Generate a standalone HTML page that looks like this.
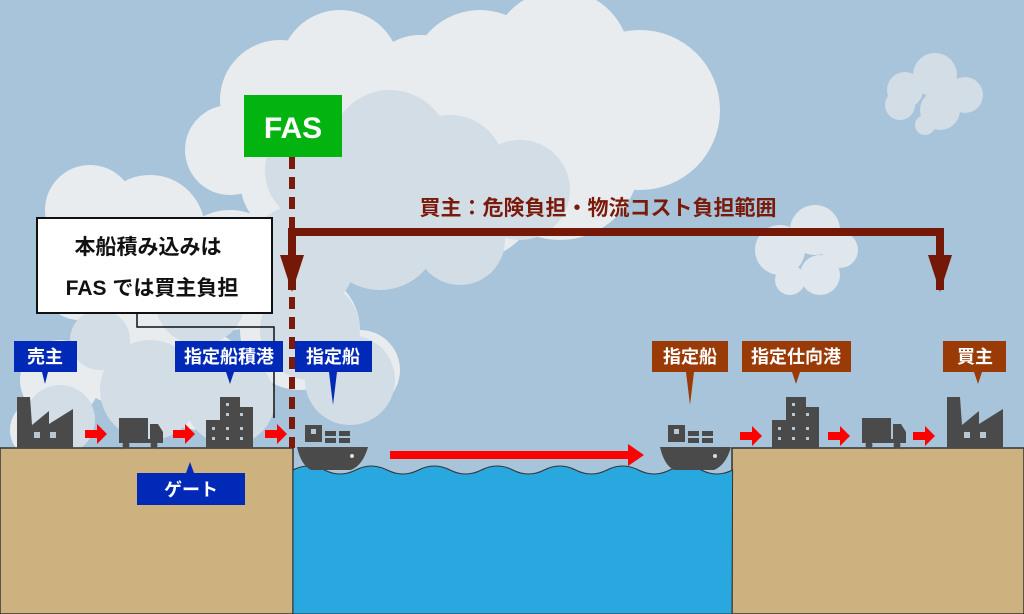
<!DOCTYPE html>
<html><head><meta charset="utf-8"><style>
html,body{margin:0;padding:0;width:1024px;height:614px;overflow:hidden;background:#a7c4da}
text{font-family:"Liberation Sans","Noto Sans CJK JP",sans-serif;font-weight:bold}
</style></head><body>
<svg width="1024" height="614" viewBox="0 0 1024 614" xmlns="http://www.w3.org/2000/svg">
<rect width="1024" height="614" fill="#a7c4da"/>
<g fill="#e8ecee">
<circle cx="280" cy="100" r="60"/><circle cx="340" cy="70" r="60"/><circle cx="420" cy="90" r="55"/>
<circle cx="480" cy="80" r="70"/><circle cx="560" cy="60" r="70"/><circle cx="640" cy="110" r="80"/>
<circle cx="560" cy="160" r="80"/><circle cx="470" cy="190" r="70"/><circle cx="380" cy="180" r="70"/>
<circle cx="300" cy="180" r="60"/><circle cx="230" cy="150" r="45"/>
<circle cx="90" cy="210" r="45"/><circle cx="150" cy="230" r="55"/><circle cx="80" cy="280" r="40"/>
<circle cx="160" cy="300" r="50"/><circle cx="230" cy="270" r="60"/><circle cx="300" cy="330" r="60"/>
<circle cx="60" cy="380" r="40"/><circle cx="120" cy="360" r="45"/><circle cx="200" cy="380" r="50"/>
<circle cx="360" cy="370" r="40"/><circle cx="40" cy="430" r="30"/>
</g>
<g fill="#d3dde6">
<circle cx="320" cy="170" r="55"/><circle cx="390" cy="150" r="60"/><circle cx="450" cy="170" r="55"/>
<circle cx="520" cy="190" r="50"/><circle cx="460" cy="240" r="45"/><circle cx="380" cy="230" r="60"/>
<circle cx="300" cy="260" r="55"/><circle cx="200" cy="300" r="45"/><circle cx="310" cy="330" r="50"/>
<circle cx="350" cy="380" r="45"/><circle cx="150" cy="390" r="50"/><circle cx="230" cy="400" r="45"/>
<circle cx="60" cy="420" r="35"/><circle cx="100" cy="340" r="30"/>
</g>
<g fill="#d3dde6">
<circle cx="905" cy="90" r="18"/><circle cx="935" cy="75" r="22"/><circle cx="965" cy="95" r="18"/>
<circle cx="940" cy="110" r="20"/><circle cx="900" cy="105" r="15"/><circle cx="925" cy="125" r="10"/>
</g>
<g fill="#dfe6ec">
<circle cx="780" cy="250" r="25"/><circle cx="815" cy="230" r="25"/><circle cx="840" cy="250" r="18"/>
<circle cx="820" cy="275" r="20"/><circle cx="790" cy="280" r="15"/>
</g>
<rect x="0" y="448" width="293" height="166" fill="#cdb27f" stroke="#333" stroke-width="1.5"/>
<rect x="732" y="448" width="292" height="166" fill="#cdb27f" stroke="#333" stroke-width="1.5"/>
<path d="M293 470 q15.7 -8 31.4 0 t31.4 0 t31.4 0 t31.4 0 t31.4 0 t31.4 0 t31.4 0 t31.4 0 t31.4 0 t31.4 0 t31.4 0 t31.4 0 t31.4 0 t31.4 0 L732 614 L293 614Z" fill="#29a8e0" stroke="#333" stroke-width="1"/>
<line x1="292" y1="157" x2="292" y2="448" stroke="#7a1a0a" stroke-width="6" stroke-dasharray="12,8"/>
<path d="M292 290 V232 H940 V290" fill="none" stroke="#751808" stroke-width="8"/>
<polygon points="280,255 304,255 292,292" fill="#751808"/>
<polygon points="928,255 952,255 940,292" fill="#751808"/>
<text x="598" y="215" font-size="21" fill="#7a1a0a" text-anchor="middle">買主：危険負担・物流コスト負担範囲</text>
<rect x="244" y="95" width="98" height="62" fill="#03b30f"/>
<text x="293" y="138" font-size="30" fill="#fff" text-anchor="middle">FAS</text>
<rect x="37" y="218" width="235" height="95" fill="#fff" stroke="#111" stroke-width="2"/>
<text x="148" y="254" font-size="21" fill="#111" text-anchor="middle">本船積み込みは</text>
<text x="152" y="295" font-size="21" fill="#111" text-anchor="middle">FAS では買主負担</text>
<polyline points="137,313 137,327 274,327 274,418" fill="none" stroke="#111" stroke-width="1.5"/>
<g fill="#0029b8">
<rect x="14" y="341" width="63" height="31"/><polygon points="42,372 48,372 45,384"/>
<rect x="175" y="341" width="108" height="31"/><polygon points="226,372 234,372 230,384"/>
<rect x="295" y="341" width="77" height="31"/><polygon points="329,372 337,372 333,405"/>
<rect x="137" y="473" width="108" height="32"/><polygon points="186,473 194,473 190,462"/>
</g>
<g fill="#9a3a06">
<rect x="652" y="341" width="76" height="31"/><polygon points="686,372 694,372 690,405"/>
<rect x="742" y="341" width="109" height="31"/><polygon points="792,372 800,372 796,384"/>
<rect x="943" y="341" width="63" height="31"/><polygon points="974,372 982,372 978,384"/>
</g>
<g font-size="18" fill="#fff" text-anchor="middle">
<text x="45" y="363">売主</text><text x="229" y="363">指定船積港</text><text x="333" y="363">指定船</text>
<text x="191" y="496">ゲート</text>
<text x="690" y="363">指定船</text><text x="796" y="363">指定仕向港</text><text x="975" y="363">買主</text>
</g>
<defs>
<g id="factory" fill="#4a4a4a"><polygon points="0,51 0,0 13,0 15,28 32,14 32,27 56,12 56,51"/><rect x="17" y="35" width="6" height="6" fill="#b9c7d2"/><rect x="33" y="35" width="6" height="6" fill="#b9c7d2"/></g>
<g id="truck" fill="#4a4a4a"><rect x="0" y="0" width="29" height="21"/><path d="M31 6 h8 l5 8 v10 h-13z"/><rect x="0" y="21" width="44" height="4"/><circle cx="7" cy="27" r="3.5"/><circle cx="35" cy="27" r="3.5"/></g>
<g id="bldg"><g fill="#4a4a4a"><rect x="0" y="23" width="47" height="28"/><rect x="14" y="0" width="20" height="51"/><rect x="30" y="10" width="17" height="41"/></g>
<g fill="#b9c7d2"><rect x="20" y="6" width="3" height="3"/><rect x="20" y="16" width="3" height="3"/><rect x="34" y="16" width="3" height="3"/><rect x="6" y="30" width="3" height="3"/><rect x="20" y="30" width="3" height="3"/><rect x="34" y="30" width="3" height="3"/><rect x="6" y="40" width="3" height="3"/><rect x="20" y="40" width="3" height="3"/><rect x="34" y="40" width="3" height="3"/></g></g>
<g id="ship"><g fill="#4a4a4a"><rect x="8" y="0" width="17" height="17"/><rect x="28" y="6" width="11" height="5"/><rect x="42" y="6" width="11" height="5"/><rect x="28" y="13" width="11" height="5"/><rect x="42" y="13" width="11" height="5"/><path d="M0 22 H71 Q66 40 54 45 H14 Q4 40 0 22Z"/></g><rect x="14" y="4" width="5" height="5" fill="#b9c7d2"/><circle cx="55" cy="31" r="2" fill="#ddd"/></g>
<polygon id="arr" points="0,-4 12,-4 12,-10 22,0 12,10 12,4 0,4" fill="#f00"/>
</defs>
<use href="#factory" x="17" y="397"/><use href="#truck" x="119" y="418"/><use href="#bldg" x="206" y="397"/><use href="#ship" x="297" y="425"/>
<use href="#ship" x="660" y="425"/><use href="#bldg" x="772" y="397"/><use href="#truck" x="862" y="418"/><use href="#factory" x="947" y="397"/>
<use href="#arr" x="85" y="434"/><use href="#arr" x="173" y="434"/><use href="#arr" x="265" y="434"/>
<use href="#arr" x="740" y="436"/><use href="#arr" x="828" y="436"/><use href="#arr" x="913" y="436"/>
<rect x="390" y="451" width="240" height="8" fill="#f00"/><polygon points="628,444 644,455 628,466" fill="#f00"/>
</svg>
</body></html>
